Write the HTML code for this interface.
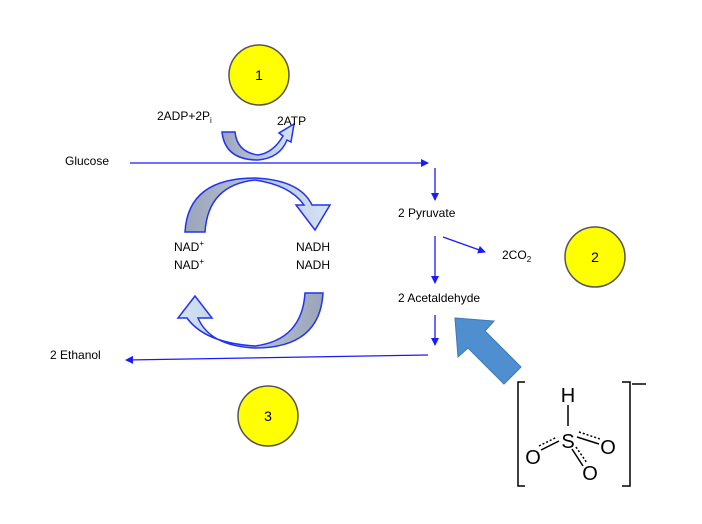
<!DOCTYPE html>
<html><head><style>body{margin:0;background:#fff}svg{display:block}text{font-family:"Liberation Sans",sans-serif}</style></head><body>
<svg width="702" height="524" viewBox="0 0 702 524" xmlns="http://www.w3.org/2000/svg">
<defs>
<marker id="ah" markerWidth="8" markerHeight="8" refX="7" refY="4" orient="auto" markerUnits="userSpaceOnUse"><path d="M0,0 L8,4 L0,8 Z" fill="#1a1aff"/></marker>
<linearGradient id="gt" x1="0" x2="1" y1="0" y2="0"><stop offset="0" stop-color="#9aa4b8"/><stop offset="0.5" stop-color="#b8c4d8"/><stop offset="1" stop-color="#d4e4f8"/></linearGradient>
<linearGradient id="gb" x1="1" x2="0" y1="0" y2="0"><stop offset="0" stop-color="#9aa4b8"/><stop offset="0.5" stop-color="#b8c4d8"/><stop offset="1" stop-color="#d4e4f8"/></linearGradient>
</defs>
<g fill="#ffff00" stroke="#555" stroke-width="1.5">
<circle cx="259" cy="75" r="30"/><circle cx="595" cy="257" r="30"/><circle cx="268" cy="416" r="30"/>
</g>
<g font-size="14" text-anchor="middle"><text x="259" y="80">1</text><text x="595" y="262">2</text><text x="268" y="421">3</text></g>
<g stroke="#1a1aff" stroke-width="1.3" fill="none" marker-end="url(#ah)">
<line x1="130" y1="163" x2="428" y2="163"/>
<line x1="435" y1="168" x2="435" y2="200"/>
<line x1="435" y1="236" x2="435" y2="283"/>
<line x1="443" y1="237" x2="485" y2="252"/>
<line x1="435" y1="315" x2="435" y2="345"/>
<line x1="428" y1="355" x2="126" y2="360"/>
</g>
<path d="M455,318 L494,321 L485,331 L521,367 L504,384 L468,348 L458,357 Z" fill="#4f8fd0" stroke="#3a78b8" stroke-width="1"/>
<g stroke="#2233ee" stroke-width="1.5">
<path d="M185,232 Q188,178 255,178 Q300,180 312,205 L330,205 L315,230 L296,205 L304,205 Q290,185 255,180 Q208,185 205,232 Z" fill="url(#gt)"/>
<path d="M323,293 Q320,348 255,348 Q210,346 198,318 L212,318 L195,296 L178,318 L187,318 Q205,343 255,346 Q302,340 305,293 Z" fill="url(#gb)"/>
<path d="M222,132 Q225,160 258,160 Q280,158 287,140 L291,142 L294,124 L279,133 L283,136 Q273,153 258,155 Q237,152 235,132 Z" fill="url(#gt)"/>
</g>
<g font-size="12" fill="#000">
<text x="157" y="120">2ADP+2P<tspan font-size="8" dy="3">i</tspan></text>
<text x="277" y="125">2ATP</text>
<text x="65" y="165">Glucose</text>
<text x="398" y="217">2 Pyruvate</text>
<text x="502" y="259">2CO<tspan font-size="8" dy="3">2</tspan></text>
<text x="398" y="302">2 Acetaldehyde</text>
<text x="174" y="251">NAD<tspan font-size="8" dy="-5">+</tspan></text>
<text x="174" y="269">NAD<tspan font-size="8" dy="-5">+</tspan></text>
<text x="296" y="251">NADH</text>
<text x="296" y="269">NADH</text>
<text x="50" y="359">2 Ethanol</text>
</g>
<g stroke="#000" stroke-width="1.5" fill="none">
<path d="M525,382 L518,382 L518,486 L525,486"/>
<path d="M622,382 L630,382 L630,486 L622,486"/>
<line x1="632" y1="384" x2="646" y2="384"/>
<line x1="568" y1="405" x2="568" y2="426"/>
<line x1="541" y1="450" x2="559" y2="441"/>
<line x1="577" y1="437" x2="599" y2="444"/>
<line x1="572" y1="449" x2="583" y2="466"/>
<line x1="539" y1="446" x2="557" y2="437" stroke-dasharray="2,2"/>
<line x1="579" y1="432" x2="600" y2="439" stroke-dasharray="2,2"/>
<line x1="576" y1="447" x2="587" y2="463" stroke-dasharray="2,2"/>
</g>
<g font-size="20" fill="#000" text-anchor="middle">
<text x="568" y="402">H</text>
<text x="568" y="448">S</text>
<text x="533" y="464">O</text>
<text x="608" y="454">O</text>
<text x="590" y="480">O</text>
</g>
</svg>
</body></html>
